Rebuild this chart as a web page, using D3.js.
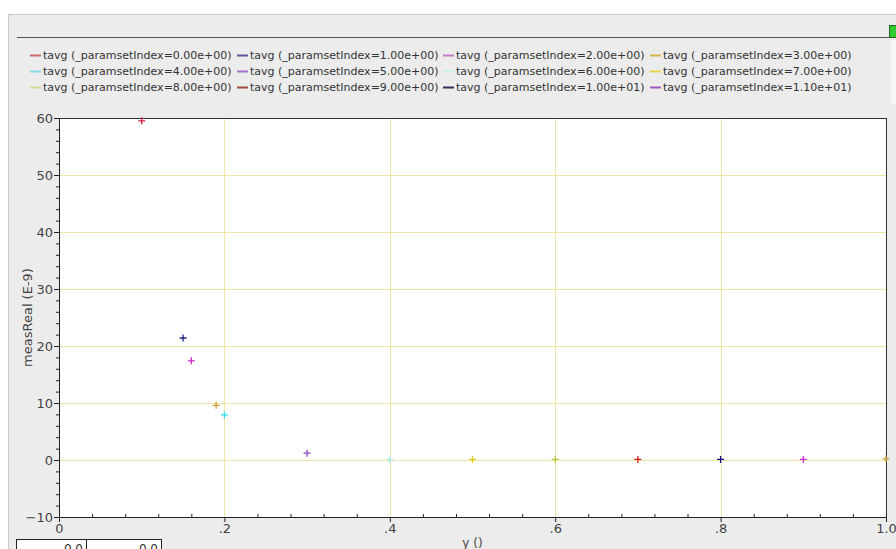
<!DOCTYPE html>
<html><head><meta charset="utf-8">
<script src="https://cdn.jsdelivr.net/npm/d3@7"></script>
<style>html,body{margin:0;padding:0;background:#fff;}svg{display:block;font-family:"DejaVu Sans",sans-serif;}</style>
</head><body><svg id="c" width="896" height="549"></svg>
<script>
const seriesLabels = ["0.00e+00","1.00e+00","2.00e+00","3.00e+00","4.00e+00","5.00e+00","6.00e+00","7.00e+00","8.00e+00","9.00e+00","1.00e+01","1.10e+01"];
const legendColors = ["#c86a6a","#5a5a9a","#c878c8","#d8b448","#88dcea","#a070c8","#c4f0f0","#e8d448","#d8d898","#a04a3a","#303058","#a058c0"];
const markerColors = ["#d0203c","#20208c","#c828c0","#c8a030","#30d8f0","#8848b8","#a0f0f0","#e8d020","#b8c840","#d02010","#101080","#d030d0"];
// points: [series index, x, y]
const pointSeries = [0, 1, 2, 3, 4, 5, 6, 7, 8, 9, 10, 11, 3];
const pointX = [0.10, 0.15, 0.16, 0.19, 0.20, 0.30, 0.40, 0.50, 0.60, 0.70, 0.80, 0.90, 1.00];
const pointY = [59.5, 21.4, 17.4, 9.6, 7.9, 1.2, 0.1, 0.1, 0.1, 0.1, 0.1, 0.1, 0.2];
const xTicks = [0, 0.2, 0.4, 0.6, 0.8, 1.0];
const xTickLabels = ["0", ".2", ".4", ".6", ".8", "1.0"];
const yTicks = [-10, 0, 10, 20, 30, 40, 50, 60];

const svg = d3.select("#c");
// outer panel
svg.append("rect").attr("x",8).attr("y",14).attr("width",888).attr("height",535).attr("fill","#ececec");
svg.append("line").attr("x1",8).attr("x2",896).attr("y1",14.5).attr("y2",14.5).attr("stroke","#c8c8c8");
svg.append("line").attr("x1",8.5).attr("x2",8.5).attr("y1",14).attr("y2",549).attr("stroke","#c8c8c8");
svg.append("line").attr("x1",17).attr("x2",896).attr("y1",37.5).attr("y2",37.5).attr("stroke","#555").attr("stroke-width",1.2);
svg.append("rect").attr("x",889.5).attr("y",25.5).attr("width",8).attr("height",12).attr("fill","#2ecc2e").attr("stroke","#226622");
svg.append("rect").attr("x",891).attr("y",40).attr("width",5).attr("height",64).attr("fill","#f8f8f8");

const m = {l:59, r:886, t:118, b:517};
const x = d3.scaleLinear().domain([0,1]).range([m.l, m.r]);
const y = d3.scaleLinear().domain([-10,60]).range([m.b, m.t]);

svg.append("rect").attr("x",m.l).attr("y",m.t).attr("width",m.r-m.l).attr("height",m.b-m.t).attr("fill","#fff");

// grid
const grid = svg.append("g").attr("stroke","#efe6a6").attr("stroke-width",1);
yTicks.filter(v=>v>-10 && v<60).forEach(v=>{
  grid.append("line").attr("x1",m.l).attr("x2",m.r).attr("y1",Math.round(y(v))+0.5).attr("y2",Math.round(y(v))+0.5);
});
xTicks.filter(v=>v>0 && v<1).forEach(v=>{
  grid.append("line").attr("y1",m.t).attr("y2",m.b).attr("x1",Math.round(x(v))+0.5).attr("x2",Math.round(x(v))+0.5);
});

// frame
svg.append("line").attr("x1",m.l).attr("x2",m.r).attr("y1",m.t+0.5).attr("y2",m.t+0.5).attr("stroke","#333");
svg.append("line").attr("x1",m.r+0.5).attr("x2",m.r+0.5).attr("y1",m.t).attr("y2",m.b).attr("stroke","#333");

// axes
const yAxis = d3.axisLeft(y).tickValues(yTicks).tickSize(5).tickPadding(1).tickFormat(d3.format("d"));
const yMinor = d3.axisLeft(y).tickValues(d3.range(-10,61,2).filter(v=>v%10!==0)).tickSize(3).tickFormat("");
const gy = svg.append("g").attr("transform",`translate(${m.l},0)`).call(yAxis);
const gym = svg.append("g").attr("transform",`translate(${m.l},0)`).call(yMinor);
const xAxis = d3.axisBottom(x).tickValues(xTicks).tickSize(5).tickPadding(2).tickFormat((d,i)=>xTickLabels[i]);
const xMinor = d3.axisBottom(x).tickValues(d3.range(1,25).map(i=>i*0.04).filter(v=>Math.abs(v*5-Math.round(v*5))>1e-6)).tickSize(-3).tickFormat("");
const gx = svg.append("g").attr("transform",`translate(0,${m.b})`).call(xAxis);
const gxm = svg.append("g").attr("transform",`translate(0,${m.b})`).call(xMinor);
[gy,gym,gx,gxm].forEach(g=>{
  g.select(".domain").attr("stroke","#222");
  g.selectAll(".tick line").attr("stroke","#222");
  g.selectAll("text").attr("fill","#444").style("font-size","13px").style("font-family","'DejaVu Sans',sans-serif");
});

// axis labels
svg.append("text").attr("transform",`translate(32,${(m.t+m.b)/2}) rotate(-90)`).attr("text-anchor","middle")
  .attr("fill","#444").style("font-size","13px").text("measReal (E-9)");
svg.append("text").attr("x",(m.l+m.r)/2).attr("y",547).attr("text-anchor","middle")
  .attr("fill","#444").style("font-size","12px").text("y ()");

// points
const pts = svg.append("g");
pointX.forEach((px,i)=>{
  const cx = x(px), cy = y(pointY[i]), c = markerColors[pointSeries[i]];
  pts.append("path").attr("d",`M${cx-3.5},${cy}H${cx+3.5}M${cx},${cy-3.5}V${cy+3.5}`)
    .attr("stroke",c).attr("stroke-width",1.3).attr("fill","none");
});

// legend
const colX = [30, 237, 443, 650];
const rowY = [55, 71, 87];
const lg = svg.append("g").style("font-size","11px");
seriesLabels.forEach((lab,i)=>{
  const cx = colX[i%4], cy = rowY[Math.floor(i/4)];
  lg.append("line").attr("x1",cx).attr("x2",cx+11).attr("y1",cy+0.5).attr("y2",cy+0.5).attr("stroke",legendColors[i]).attr("stroke-width",2);
  lg.append("text").attr("x",cx+13).attr("y",cy+4).attr("fill","#333").text(`tavg (_paramsetIndex=${lab})`);
});

// bottom boxes
const boxes = [[16,86],[86,161]];
boxes.forEach(([a,b])=>{
  svg.append("rect").attr("x",a+0.5).attr("y",539.5).attr("width",b-a).attr("height",20).attr("fill","#fff").attr("stroke","#222");
  svg.append("text").attr("x",b-3).attr("y",553).attr("text-anchor","end").attr("fill","#333").style("font-size","12px").text("0.0");
});
</script></body></html>
